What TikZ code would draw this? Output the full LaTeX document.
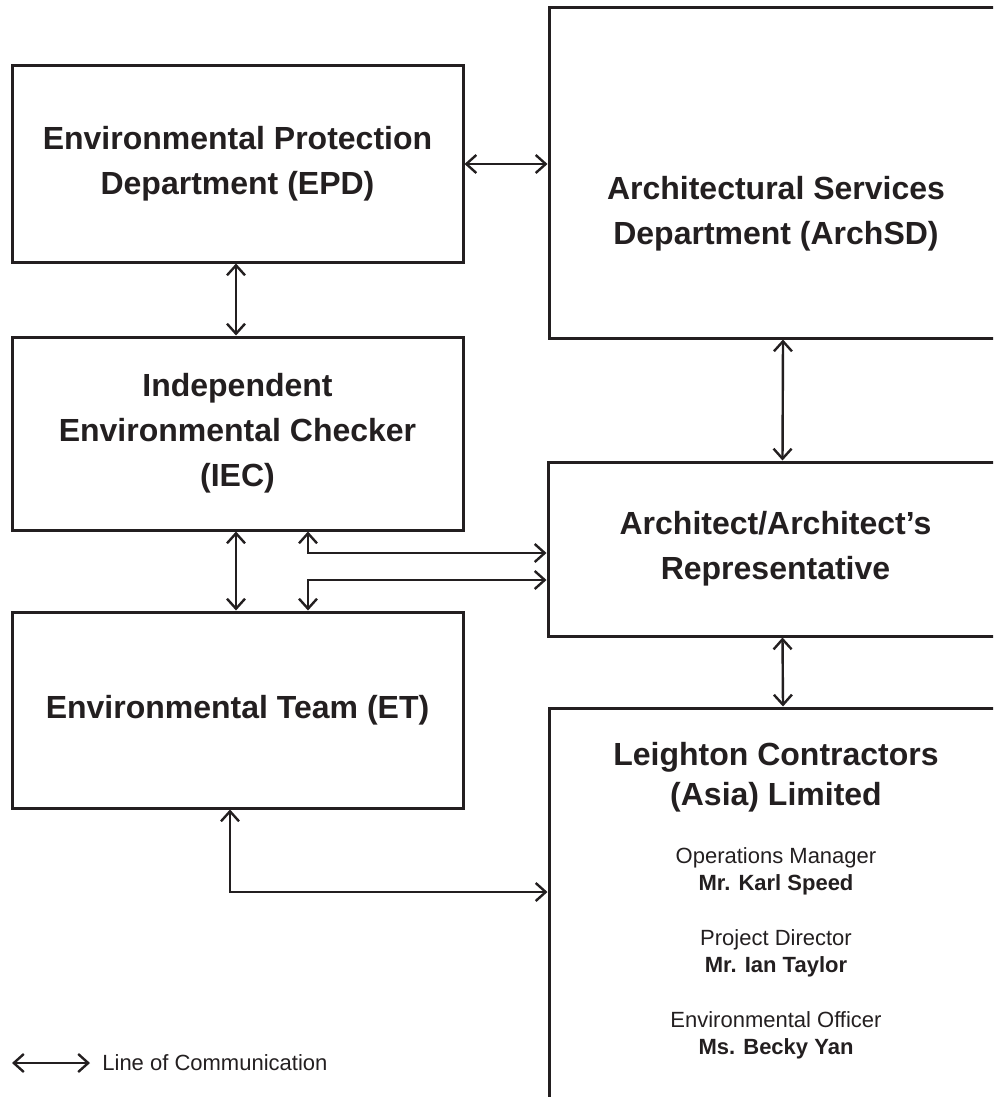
\documentclass[tikz,border=0pt]{standalone}
\usepackage{fontspec}
\setmainfont{Liberation Sans}
\usetikzlibrary{arrows.meta, positioning, calc}

\definecolor{ink}{HTML}{231F20}

\tikzset{
  box/.style={draw=ink, line width=1.5pt, inner sep=0pt, align=center, text=ink,
    font=\bfseries\fontsize{16}{22.5}\selectfont},
  comm/.style={<->, >={Straight Barb[length=5pt,width=9pt]}, line width=1.2pt, draw=ink},
  staff/.style={align=center, text=ink, font=\fontsize{11}{13.5}\selectfont}
}

\begin{document}
\begin{tikzpicture}[x=0.5pt, y=-0.5pt]

\useasboundingbox (0,0) rectangle (993,1097);
\clip (0,0) rectangle (993,1097);

% left column
\node[box, minimum width=225.5pt, minimum height=98pt] (epd) at (237.5,164)
  {Environmental Protection\\Department (EPD)};
\node[box, minimum width=225.5pt, minimum height=96.5pt] (iec) at (237.5,433.5)
  {Independent\\Environmental Checker\\(IEC)};
\node[box, minimum width=225.5pt, minimum height=98pt] (et) at (237.5,710)
  {Environmental Team (ET)};

% right column
\node[box, minimum width=227pt, minimum height=165pt] (archsd) at (776,173) {};
\node[box, draw=none] (archsdname) at (776,213.5)
  {Architectural Services\\Department (ArchSD)};
\node[box, minimum width=227.5pt, minimum height=87pt] (rep) at (775.5,549)
  {Architect/Architect's\\Representative};
\node[box, minimum width=227pt, minimum height=201pt] (lcal) at (776,909) {};
\node[box, draw=none, font=\bfseries\fontsize{16}{20}\selectfont] (lcalname) at (776,777)
  {Leighton Contractors\\(Asia) Limited};
\foreach \role/\person [count=\i] in {Operations Manager/Mr. Karl Speed,
    Project Director/Mr. Ian Taylor, Environmental Officer/Ms. Becky Yan}
  \node[staff] (staff\i) at (776,789.5+82*\i) {\role\\\textbf{\person}};

% lines of communication
\draw[comm] (epd.east) -- (archsd.west |- epd.east);
\draw[comm] ([xshift=-0.75pt]epd.south) -- ([xshift=-0.75pt]iec.north);
\draw[comm] ([xshift=-0.75pt]iec.south) -- ([xshift=-0.75pt]et.north);
\draw[comm] ([xshift=3.5pt]archsd.south) -- ([xshift=3.5pt]rep.north);
\draw[comm] ([xshift=3.5pt]rep.south) -- ([xshift=3.5pt]lcal.north);

\coordinate (iecbend) at (308,553);
\coordinate (etbend) at (308,580);
\coordinate (lowbend) at (230,892);
\draw[comm] (iec.south -| iecbend) -- (iecbend) -- (rep.west |- iecbend);
\draw[comm] (rep.west |- etbend) -- (etbend) -- (et.north -| etbend);
\draw[comm] (et.south -| lowbend) -- (lowbend) -- (lcal.west |- lowbend);

% legend
\coordinate (lega) at (12,1063);
\coordinate (legb) at (90,1063);
\draw[comm] (lega) -- (legb);
\node[staff, anchor=west, inner sep=0pt] (legtext) at (102,1063) {Line of Communication};

\end{tikzpicture}
\end{document}
